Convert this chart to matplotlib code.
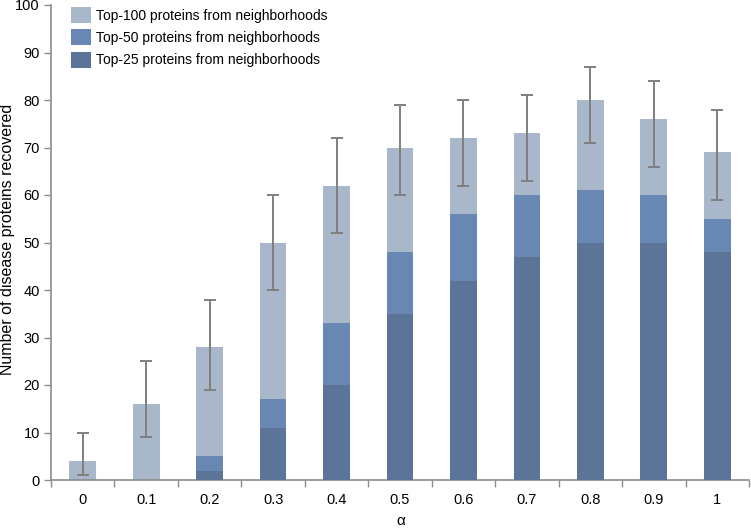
import matplotlib
matplotlib.use("Agg")
import matplotlib.pyplot as plt
import numpy as np

plt.rcParams['font.family'] = ['Liberation Sans', 'DejaVu Sans']

categories = ["0", "0.1", "0.2", "0.3", "0.4", "0.5", "0.6", "0.7", "0.8", "0.9", "1"]
top100 = [4, 16, 28, 50, 62, 70, 72, 73, 80, 76, 69]
top50 = [0, 0, 5, 17, 33, 48, 56, 60, 61, 60, 55]
top25 = [0, 0, 2, 11, 20, 35, 42, 47, 50, 50, 48]
err_low_end = [1, 9, 19, 40, 52, 60, 62, 63, 71, 66, 59]
err_high_end = [10, 25, 38, 60, 72, 79, 80, 81, 87, 84, 78]

c100 = "#A9B7CB"
c50 = "#6887B3"
c25 = "#5B7497"
axc = "#8C8C8C"

fig = plt.figure(figsize=(7.51, 5.28), dpi=100)
ax = fig.add_axes([51/751, 1 - 480/528, (749-51)/751, (480-5)/528])

x = np.arange(len(categories))
w = 0.42
ax.bar(x, top100, w, color=c100, label="Top-100 proteins from neighborhoods", zorder=2)
ax.bar(x, top50, w, color=c50, label="Top-50 proteins from neighborhoods", zorder=3)
ax.bar(x, top25, w, color=c25, label="Top-25 proteins from neighborhoods", zorder=4)

lo = np.array(err_low_end); hi = np.array(err_high_end)
center = (lo + hi) / 2
ax.errorbar(x, center, yerr=(hi - lo) / 2, fmt='none', ecolor="#7F7F7F",
            elinewidth=1.4, capsize=4, capthick=1.4, zorder=5)

ax.set_xlim(-0.5, len(categories) - 0.5)
ax.set_ylim(0, 100)
ax.set_yticks(range(0, 101, 10))
ax.tick_params(axis='y', colors=axc, labelcolor='black', labelsize=10.5, length=5, width=1, pad=3)
ax.set_xticks(x)
ax.set_xticklabels(categories, fontsize=10.5)
ax.tick_params(axis='x', which='major', length=0, pad=9, labelcolor='black')
ax.set_xticks(np.arange(-0.5, len(categories)), minor=True)
ax.tick_params(axis='x', which='minor', length=5, colors=axc, width=1)

for s in ['top', 'right']:
    ax.spines[s].set_visible(False)
for s in ['left', 'bottom']:
    ax.spines[s].set_color(axc)
    ax.spines[s].set_linewidth(1.2)

fig.text(8/751, 1 - 239/528, "Number of disease proteins recovered", rotation=90,
         ha='center', va='center', fontsize=11.5)
fig.text(401/751, 1 - 521/528, "α", ha='center', va='center', fontsize=11)

leg = ax.legend(loc='upper left', bbox_to_anchor=(0.011, 1.022), frameon=False,
                fontsize=10, handlelength=1.4, handleheight=1.4, labelspacing=0.45,
                handletextpad=0.4)

fig.savefig("out.png", dpi=100)
